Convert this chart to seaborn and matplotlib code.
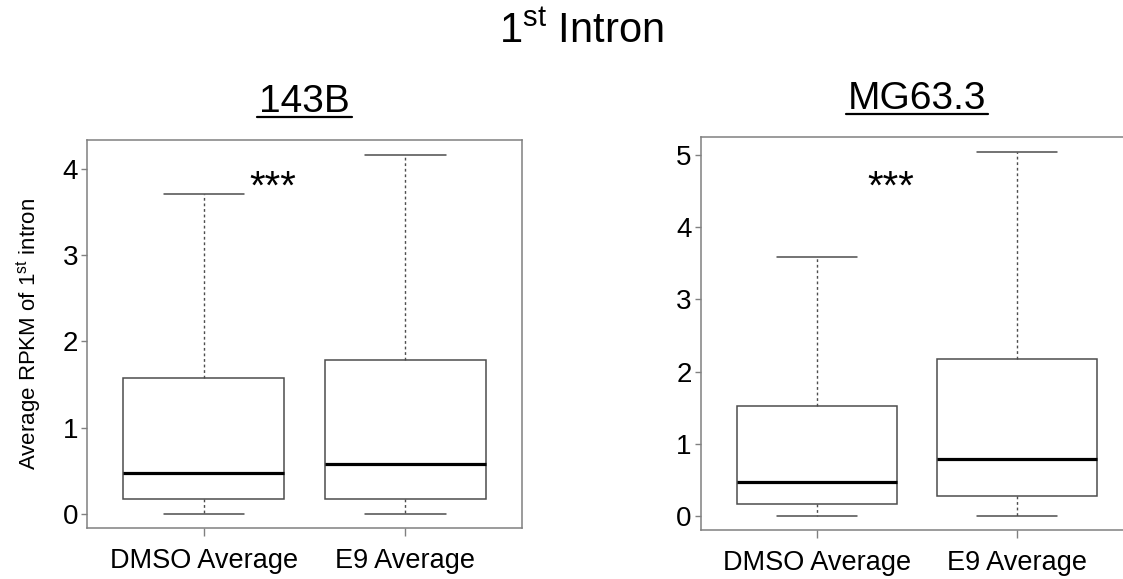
import numpy as np
import pandas as pd
import matplotlib
matplotlib.use("Agg")
import matplotlib.pyplot as plt
import seaborn as sns
from matplotlib.lines import Line2D

# ---- data (five-number summaries) ----
groups = ["DMSO Average", "E9 Average"]
# [lower whisker, Q1, median, Q3, upper whisker]
b143_dmso = [0.0, 0.17, 0.48, 1.58, 3.70]
b143_e9 = [0.0, 0.18, 0.58, 1.78, 4.16]
mg_dmso = [0.0, 0.17, 0.48, 1.53, 3.59]
mg_e9 = [0.0, 0.28, 0.79, 2.18, 5.04]
panel_titles = ["143B", "MG63.3"]
y_ticks_143b = [0, 1, 2, 3, 4]
y_ticks_mg = [0, 1, 2, 3, 4, 5]
star_x = [0.34, 0.37]
star_y = [3.78, 4.55]

sns.set_theme(style="white")
plt.rcParams["font.family"] = ["Liberation Sans", "DejaVu Sans"]
plt.rcParams["mathtext.fontset"] = "custom"
plt.rcParams["mathtext.rm"] = "Liberation Sans"
plt.rcParams["mathtext.it"] = "Liberation Sans:italic"
plt.rcParams["text.color"] = "black"
plt.rcParams["axes.labelcolor"] = "black"
plt.rcParams["xtick.color"] = "black"
plt.rcParams["ytick.color"] = "black"

def make_df(a, b):
    return pd.DataFrame({
        "group": [groups[0]] * len(a) + [groups[1]] * len(b),
        "value": list(a) + list(b),
    })

fig = plt.figure(figsize=(11.23, 5.79), dpi=100)
ax1 = fig.add_axes([0.0775, 0.0881, 0.3874, 0.670])
ax2 = fig.add_axes([0.624, 0.0846, 0.3847, 0.678])

edge = "#4d4d4d"
panels = [
    (ax1, make_df(b143_dmso, b143_e9), y_ticks_143b, (-0.16, 4.33), panel_titles[0], star_x[0], star_y[0]),
    (ax2, make_df(mg_dmso, mg_e9), y_ticks_mg, (-0.19, 5.24), panel_titles[1], star_x[1], star_y[1]),
]

titles = []
for ax, df, yt, ylim, ttl, sx, sy in panels:
    sns.boxplot(
        data=df, x="group", y="value", ax=ax, order=groups,
        whis=(0, 100), width=0.8, color="white", linecolor=edge,
        linewidth=1.1, showfliers=False,
        boxprops=dict(edgecolor=edge, facecolor="white", linewidth=1.1),
        whiskerprops=dict(color=edge, linestyle=(0, (2.0, 2.0)), linewidth=1.0),
        capprops=dict(color=edge, linewidth=1.1),
        medianprops=dict(color="black", linewidth=2.3),
        capwidths=0.4,
    )
    ax.set_xlim(-0.58, 1.58)
    ax.set_ylim(*ylim)
    ax.set_yticks(yt)
    ax.set_xlabel("")
    ax.set_ylabel("")
    for s in ax.spines.values():
        s.set_color("#808080")
        s.set_linewidth(1.1)
    ax.tick_params(axis="y", which="both", left=True, length=4.5, width=1.0,
                   color="#808080", labelcolor="black", labelsize=20, pad=2,
                   direction="out")
    ax.tick_params(axis="x", which="both", bottom=True, length=5.5, width=1.0,
                   color="#808080", labelcolor="black", labelsize=19.5, pad=9,
                   direction="out")
    ax.text(sx, sy, "***", ha="center", va="center", fontsize=29,
            color="black", transform=ax.transData)
    t = ax.text(0.5, 1.072, ttl, transform=ax.transAxes, ha="center",
                va="baseline", fontsize=28, color="black")
    titles.append(t)

ax1.set_ylabel("Average RPKM of 1$^{\\mathrm{st}}$ intron", fontsize=16,
               color="black")
ax1.yaxis.set_label_coords(-0.101, 0.5)

fig.text(0.518, 1 - 42.7 / 579, "1$^{\\mathrm{st}}$ Intron", ha="center",
         va="baseline", fontsize=30, color="black")

# underline the panel titles just below their baseline
fig.canvas.draw()
r = fig.canvas.get_renderer()
for t in titles:
    bb = t.get_window_extent(renderer=r)
    base = t.get_transform().transform(t.get_position())[1]
    y = base - 5
    fig.add_artist(Line2D([bb.x0 - 2, bb.x1 + 2], [y, y], transform=None,
                          color="black", linewidth=1.6))

fig.savefig("out.png", dpi=100)
